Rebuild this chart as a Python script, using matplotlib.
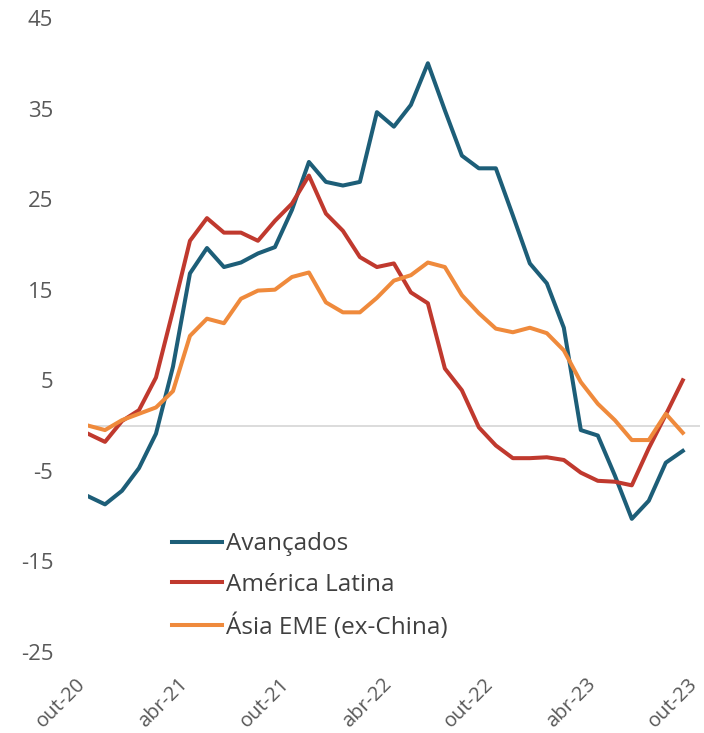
import matplotlib
matplotlib.use('Agg')
import matplotlib.pyplot as plt
import matplotlib.transforms as mtransforms

plt.rcParams['font.family'] = ['Open Sans', 'DejaVu Sans']
plt.rcParams['axes.unicode_minus'] = False

# monthly, out-20 .. set-23
avancados = [-7.8, -8.7, -7.2, -4.7, -0.9, 6.5, 16.8, 19.6, 17.5, 18.0,
             19.0, 19.7, 23.8, 29.1, 26.9, 26.5, 26.9, 34.6, 33.0, 35.4,
             40.0, 34.8, 29.8, 28.4, 28.4, 23.2, 17.9, 15.7, 10.8, -0.5,
             -1.1, -5.5, -10.3, -8.3, -4.1, -2.8]
america_latina = [-0.9, -1.8, 0.5, 1.7, 5.3, 12.7, 20.4, 22.9, 21.3, 21.3,
                  20.4, 22.6, 24.5, 27.6, 23.4, 21.5, 18.6, 17.5, 17.9, 14.7,
                  13.5, 6.3, 3.9, -0.2, -2.2, -3.6, -3.6, -3.5, -3.8, -5.2,
                  -6.1, -6.2, -6.6, -2.5, 1.2, 5.0]
asia_eme = [0.0, -0.5, 0.6, 1.3, 2.0, 3.8, 9.9, 11.8, 11.3, 14.0,
            14.9, 15.0, 16.4, 16.9, 13.6, 12.5, 12.5, 14.1, 16.0, 16.6,
            18.0, 17.5, 14.4, 12.4, 10.7, 10.3, 10.8, 10.2, 8.3, 4.8,
            2.4, 0.6, -1.6, -1.6, 1.3, -0.8]
tick_labels = ['out-20', 'abr-21', 'out-21', 'abr-22', 'out-22', 'abr-23', 'out-23']
y_ticks = [-25, -15, -5, 5, 15, 25, 35, 45]

x = list(range(len(avancados)))

fig = plt.figure(figsize=(7.04, 7.33), dpi=100)
ax = fig.add_axes([0.125, 0.1105, 0.869, 0.865])

ax.axhline(0, color='#d9d9d9', lw=1.3, zorder=1)
ax.plot(x, avancados, color='#1d5e78', lw=2.9, label='Avançados', zorder=3)
ax.plot(x, america_latina, color='#c0392e', lw=2.9, label='América Latina', zorder=3)
ax.plot(x, asia_eme, color='#ef8a3c', lw=2.9, label='Ásia EME (ex-China)', zorder=3)

ax.set_xlim(0, 36)
ax.set_ylim(-25, 45)
ax.set_yticks(y_ticks)
ax.set_xticks(range(0, 37, 6))
ax.set_xticklabels(tick_labels, rotation=45, ha='right', va='center',
                   rotation_mode='anchor')
ax.tick_params(axis='y', length=0, pad=25, labelsize=16, labelcolor='#595959')
ax.tick_params(axis='x', length=0, pad=21, labelsize=14.5, labelcolor='#595959')
# nudge the slanted labels left so the last one stays inside the figure
shift = mtransforms.ScaledTranslation(-5 / 100, 0, fig.dpi_scale_trans)
for lab in ax.get_xticklabels():
    lab.set_transform(lab.get_transform() + shift)
for s in ax.spines.values():
    s.set_visible(False)

leg = ax.legend(loc='upper left', bbox_to_anchor=(0.2443, 0.274),
                bbox_transform=fig.transFigure, frameon=False, fontsize=17.5,
                handlelength=2.05, handletextpad=0.17, labelspacing=0.68,
                borderpad=0, borderaxespad=0)
for t in leg.get_texts():
    t.set_color('#404040')

fig.savefig('out.png', dpi=100)
